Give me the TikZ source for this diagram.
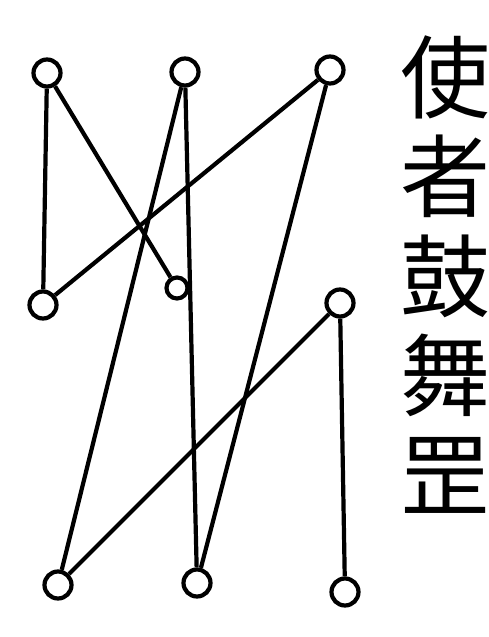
\documentclass[tikz,border=0pt]{standalone}
\usepackage{fontspec}
\newfontfamily\cjk{Noto Sans CJK SC}
\usepackage{tikz}

\begin{document}
\begin{tikzpicture}[x=1pt,y=-1pt] % Estilos de nodos
\tikzstyle{punto} = [circle, draw, line width=4.2pt, minimum size=27pt, inner sep=0pt]
\tikzstyle{chico} = [circle, draw, line width=4.2pt, minimum size=21pt, inner sep=0pt]
\tikzstyle{letra} = [font=\cjk\fontsize{90}{100}\selectfont, inner sep=0pt]
\useasboundingbox (0,0) rectangle (489,637);
% Puntos de la figura
\node (p1) [punto] at (47,73) {}; \node (p2) [punto] at (185,72) {}; \node (p3) [punto] at (330,70) {};
\node (p4) [punto] at (43,305) {}; \node (p5) [chico] at (177,288) {}; \node (p6) [punto] at (340,303) {};
\node (p7) [punto] at (58,585) {}; \node (p8) [punto] at (197,583) {}; \node (p9) [punto] at (345,592) {};
% Texto vertical
\foreach \c [count=\i] in {使,者,鼓,舞,罡}{ \node (c\i) [letra] at (445,{77+99.5*(\i-1)}) {\c}; }
% Lineas entre los puntos
\foreach \a/\b in {p1/p4,p1/p5,p4/p3,p2/p7,p2/p8,p3/p8,p6/p7,p6/p9}{ \draw[line width=4.2pt] (\a) -- (\b); }
\end{tikzpicture}
\end{document}
